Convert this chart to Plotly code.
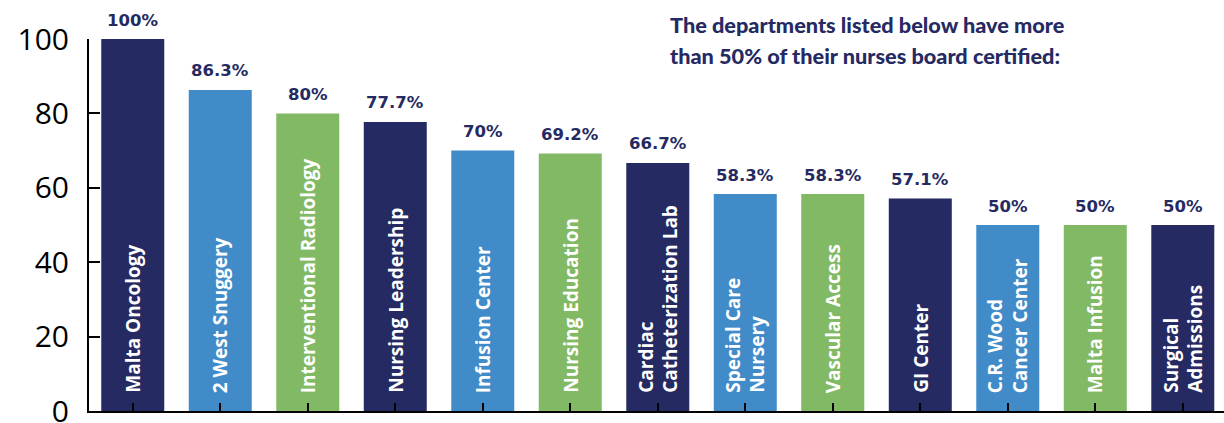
import plotly.graph_objects as go

departments = ["Malta Oncology", "2 West Snuggery", "Interventional Radiology",
               "Nursing Leadership", "Infusion Center", "Nursing Education",
               "Cardiac<br>Catheterization Lab", "Special Care<br>Nursery",
               "Vascular Access", "GI Center", "C.R. Wood<br>Cancer Center",
               "Malta Infusion", "Surgical<br>Admissions"]
values = [100, 86.3, 80, 77.7, 70, 69.2, 66.7, 58.3, 58.3, 57.1, 50, 50, 50]
value_labels = ["100%", "86.3%", "80%", "77.7%", "70%", "69.2%", "66.7%",
                "58.3%", "58.3%", "57.1%", "50%", "50%", "50%"]
palette = ["#252A62", "#418BC9", "#82B965"]
colors = [palette[i % 3] for i in range(len(values))]
y_ticks = [0, 20, 40, 60, 80, 100]
title_lines = ["The departments listed below have more",
               "than 50% of their nurses board certified:"]

NAVY = "#252A62"
idx = list(range(len(values)))

fig = go.Figure()
fig.add_trace(go.Bar(x=idx, y=values, marker=dict(color=colors, line=dict(width=0)),
                     width=0.72, hoverinfo="skip"))

annotations = []
for i, (v, lab, dep) in enumerate(zip(values, value_labels, departments)):
    annotations.append(dict(x=i, y=v, xref="x", yref="y", text=lab,
                            showarrow=False, yanchor="middle", yshift=19,
                            font=dict(family="DejaVu Sans", size=16.5, color=NAVY,
                                      weight=700)))
    annotations.append(dict(x=i, y=0, xref="x", yref="y", text=dep,
                            showarrow=False, textangle=-90, yanchor="bottom",
                            xanchor="center", yshift=16, align="left",
                            font=dict(family="Open Sans", size=19, color="white",
                                      weight=700)))

for k, line in enumerate(title_lines):
    annotations.append(dict(x=(668 - 89) / 1135, y=(411 - 25 - 31 * k) / 372,
                            xref="paper", yref="paper", text=line,
                            showarrow=False, xanchor="left", yanchor="middle",
                            font=dict(family="Lato", size=21.7, color=NAVY,
                                      weight=900)))

fig.update_layout(
    width=1224, height=423,
    margin=dict(l=89, r=0, t=39, b=12),
    paper_bgcolor="white", plot_bgcolor="white",
    showlegend=False,
    annotations=annotations,
    xaxis=dict(range=[-0.5, 12.471], showticklabels=False, showgrid=False,
               zeroline=False, showline=True, linecolor="black", linewidth=2,
               ticks="inside", ticklen=8, tickwidth=2, tickcolor="black",
               tickson="boundaries", tickmode="array", tickvals=idx,
               automargin=False),
    yaxis=dict(range=[0, 100], tickvals=y_ticks, showgrid=False, zeroline=False,
               showline=True, linecolor="black", linewidth=2,
               ticks="inside", ticklen=11, tickwidth=2, tickcolor="black",
               ticklabelstandoff=12, ticklabeloverflow="allow", automargin=False,
               tickfont=dict(family="Open Sans", size=30, color="black")),
)

fig.write_html("out.html")
